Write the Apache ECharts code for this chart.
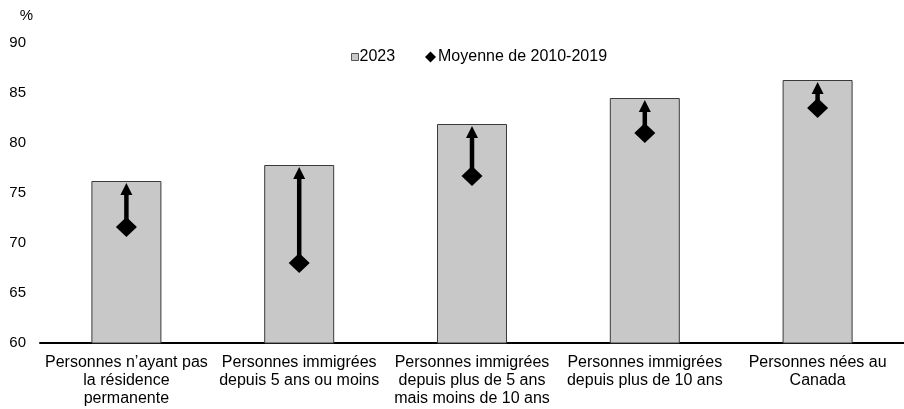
<!DOCTYPE html>
<html><head><meta charset="utf-8">
<script src="https://cdn.jsdelivr.net/npm/echarts@6/dist/echarts.min.js"></script>
<style>html,body{margin:0;padding:0;background:#fff}#c{width:904px;height:409px}</style>
</head><body><div id="c"></div>
<script>
var categories = [
  "Personnes n\u2019ayant pas\nla r\u00e9sidence\npermanente",
  "Personnes immigr\u00e9es\ndepuis 5 ans ou moins",
  "Personnes immigr\u00e9es\ndepuis plus de 5 ans\nmais moins de 10 ans",
  "Personnes immigr\u00e9es\ndepuis plus de 10 ans",
  "Personnes n\u00e9es au\nCanada"
];
var values2023 = [76.2, 77.8, 81.9, 84.5, 86.3];
var avg2010_2019 = [71.6, 68.0, 76.7, 81.0, 83.5];
var yTicks = [60, 65, 70, 75, 80, 85, 90];

var FONT = "'Liberation Sans', Arial, sans-serif";
var chart = echarts.init(document.getElementById('c'), null, {renderer: 'canvas'});
var arrowData = values2023.map(function (v, i) { return [i, avg2010_2019[i], v]; });

chart.setOption({
  animation: false,
  textStyle: {fontFamily: FONT, color: '#000'},
  grid: {left: 40, top: 43, width: 870, height: 300, containLabel: false},
  legend: [
    {left: 351, top: 49, padding: 0, itemWidth: 7, itemHeight: 7, data: [{name: '2023', icon: 'rect'}],
     itemStyle: {borderColor: '#555', borderWidth: 1},
     textStyle: {fontFamily: FONT, fontSize: 16, color: '#000', padding: [0, 0, 0, -4]}, itemGap: 0},
    {left: 425, top: 49, padding: 0, itemWidth: 11, itemHeight: 11, data: [{name: 'Moyenne de 2010-2019', icon: 'diamond'}],
     textStyle: {fontFamily: FONT, fontSize: 16, color: '#000', padding: [0, 0, 0, -3]}, itemGap: 0}
  ],
  xAxis: {
    type: 'category', data: categories,
    axisLine: {show: true, lineStyle: {color: '#000', width: 2}},
    axisTick: {show: false},
    axisLabel: {interval: 0, fontFamily: FONT, fontSize: 16, color: '#000', lineHeight: 18, margin: 11}
  },
  yAxis: {
    type: 'value', min: 60, max: 90, interval: 5,
    name: '%', nameLocation: 'end', nameGap: 27,
    nameTextStyle: {fontFamily: FONT, fontSize: 15, color: '#000', align: 'right', verticalAlign: 'middle', padding: [0, 7, 0, 0]},
    axisLine: {show: false}, axisTick: {show: false}, splitLine: {show: false},
    axisLabel: {fontFamily: FONT, fontSize: 15, color: '#000', margin: 14,
      formatter: function (v) { return yTicks.indexOf(v) >= 0 ? String(v) : ''; }}
  },
  series: [
    {
      name: '2023', type: 'bar', data: values2023, barWidth: 70,
      itemStyle: {color: '#c8c8c8', borderColor: '#3a3a3a', borderWidth: 1}, z: 2
    },
    {
      name: 'arrows', type: 'custom', data: arrowData, z: 3, silent: true,
      renderItem: function (params, api) {
        var p0 = api.coord([api.value(0), api.value(1)]);
        var p1 = api.coord([api.value(0), api.value(2)]);
        var tipY = p1[1] + 2, head = 12, hw = 6;
        return {
          type: 'group', children: [
            {type: 'line', shape: {x1: p0[0], y1: p0[1], x2: p0[0], y2: tipY + head - 1},
             style: {stroke: '#000', lineWidth: 4.5}},
            {type: 'polygon', shape: {points: [[p0[0], tipY], [p0[0] - hw, tipY + head], [p0[0] + hw, tipY + head]]},
             style: {fill: '#000'}}
          ]
        };
      }
    },
    {
      name: 'Moyenne de 2010-2019', type: 'scatter', data: avg2010_2019,
      symbol: 'diamond', symbolSize: [21, 20], itemStyle: {color: '#000', opacity: 1}, z: 4
    }
  ]
});
</script></body></html>
